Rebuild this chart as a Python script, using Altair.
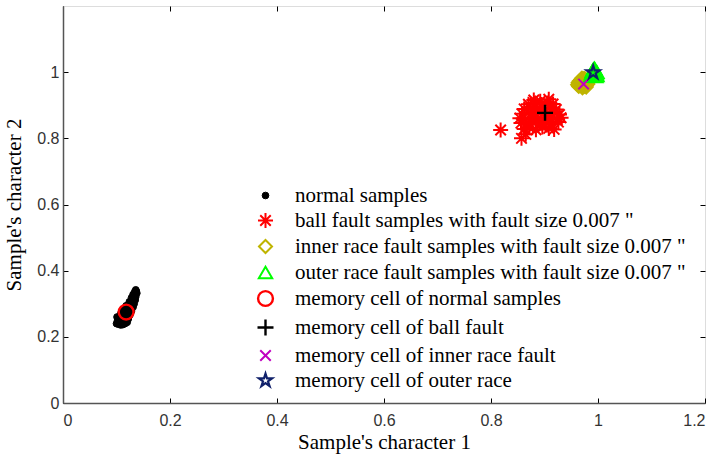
import altair as alt
import pandas as pd

series_names = [
    "normal samples",
    "ball fault samples with fault size 0.007 \"",
    "inner race fault samples with fault size 0.007 \"",
    "outer race fault samples with fault size 0.007 \"",
    "memory cell of normal samples",
    "memory cell of ball fault",
    "memory cell of inner race fault",
    "memory cell of outer race",
]

normal_x = [0.100,0.104,0.108,0.112,0.116,0.120,0.102,0.106,0.110,0.114,0.118,0.122,0.101,0.105,0.109,0.113,0.117,0.121,0.125,
            0.108,0.112,0.116,0.120,0.124,0.128,0.112,0.116,0.120,0.124,0.128,0.131,
            0.118,0.122,0.126,0.130,0.133,0.124,0.128,0.132,0.135,0.128,0.132,0.136,0.131,0.135,0.138,0.134,0.137,0.136]
normal_y = [0.240,0.238,0.236,0.237,0.240,0.244,0.250,0.249,0.247,0.248,0.251,0.254,0.260,0.259,0.258,0.260,0.262,0.264,0.266,
            0.270,0.272,0.271,0.273,0.276,0.278,0.282,0.284,0.283,0.286,0.288,0.290,
            0.294,0.296,0.297,0.299,0.300,0.306,0.308,0.309,0.311,0.318,0.320,0.321,0.328,0.330,0.332,0.336,0.338,0.342]

ball_x = [0.818,0.857,0.865,
          0.862,0.872,0.884,0.896,0.908,0.918,
          0.856,0.866,0.878,0.890,0.902,0.914,0.926,
          0.854,0.864,0.876,0.888,0.900,0.912,0.924,0.931,
          0.858,0.870,0.882,0.894,0.906,0.918,0.928,
          0.862,0.874,0.886,0.898,0.910,0.922,
          0.870,0.882,0.894,0.906,0.916,
          0.880,0.892,0.908]
ball_y = [0.825,0.800,0.812,
          0.828,0.832,0.826,0.834,0.830,0.827,
          0.846,0.842,0.848,0.844,0.847,0.843,0.849,
          0.861,0.858,0.862,0.859,0.864,0.860,0.857,0.862,
          0.874,0.877,0.873,0.878,0.875,0.879,0.872,
          0.889,0.892,0.888,0.891,0.893,0.887,
          0.903,0.906,0.902,0.907,0.904,
          0.916,0.912,0.918]

inner_x = [0.962,0.966,0.970,0.974,0.978,0.981,0.963,0.967,0.971,0.975,0.979,0.965,0.969,0.973,0.977,0.980,
           0.968,0.972,0.976,0.970,0.974,0.964,0.978,0.971]
inner_y = [0.962,0.960,0.958,0.957,0.960,0.964,0.968,0.967,0.965,0.966,0.969,0.973,0.972,0.971,0.974,0.976,
           0.978,0.977,0.979,0.982,0.981,0.957,0.955,0.953]

outer_x = [0.987,0.990,0.993,0.996,0.998,0.988,0.991,0.994,0.997,0.989,0.992,0.995,0.998,0.991,0.994,0.993]
outer_y = [0.990,0.988,0.989,0.987,0.990,0.996,0.995,0.997,0.996,1.002,1.003,1.001,1.000,1.008,1.010,1.012]

memory_x = [0.118, 0.901, 0.973, 0.991]
memory_y = [0.275, 0.877, 0.964, 0.999]

series_colors = ["#000000", "#ff0000", "#bfb400", "#00ff00", "#ff0000", "#000000", "#c000c0", "#10206a"]
series_fills = ["#000000", "transparent", "transparent", "transparent", "transparent", "transparent", "transparent", "transparent"]

ASTERISK = "M-1,0L1,0M0,-1L0,1M-0.7,-0.7L0.7,0.7M-0.7,0.7L0.7,-0.7"
PLUS = "M-1,0L1,0M0,-1L0,1"
XMARK = "M-1,-1L1,1M-1,1L1,-1"
STAR = "M0,-1L0.22,-0.31L0.95,-0.31L0.36,0.12L0.59,0.81L0,0.38L-0.59,0.81L-0.36,0.12L-0.95,-0.31L-0.22,-0.31Z"
series_shapes = ["circle", ASTERISK, "diamond", "triangle-up", "circle", PLUS, XMARK, STAR]
series_sizes = [45, 225, 170, 180, 220, 256, 110, 190]
series_strokes = [1, 2.0, 2.0, 2.0, 2.4, 2.4, 2.0, 2.2]

rows = []
for xs, ys, name in [(normal_x, normal_y, series_names[0]),
                     (ball_x, ball_y, series_names[1]),
                     (inner_x, inner_y, series_names[2]),
                     (outer_x, outer_y, series_names[3])]:
    for a, b in zip(xs, ys):
        rows.append({"x": a, "y": b, "series": name})
for i in range(4):
    rows.append({"x": memory_x[i], "y": memory_y[i], "series": series_names[4 + i]})
df = pd.DataFrame(rows)
df["order"] = range(len(df))

W, H = 642, 397
serif = "Liberation Serif"
sans = "Liberation Sans"

chart = alt.Chart(df).mark_point(filled=False, opacity=1).encode(
    x=alt.X("x:Q", scale=alt.Scale(domain=[0, 1.2], nice=False, zero=False),
            axis=alt.Axis(title="Sample's character 1", values=[0, 0.2, 0.4, 0.6, 0.8, 1, 1.2],
                          format="~g", ticks=False, grid=True, gridDash=[5, H - 10],
                          gridColor="#000000", gridOpacity=1, gridWidth=1,
                          labelFont=sans, labelFontSize=16, labelColor="#333333", labelPadding=9,
                          titleFont=serif, titleFontSize=21, titleFontWeight="normal",
                          titleColor="#000000", titlePadding=3,
                          domainColor="#555555", domainWidth=1.5)),
    y=alt.Y("y:Q", scale=alt.Scale(domain=[0, 1.2], nice=False, zero=False),
            axis=alt.Axis(title="Sample's character 2", values=[0, 0.2, 0.4, 0.6, 0.8, 1],
                          format="~g", ticks=False, grid=True, gridDash=[5, W - 10],
                          gridColor="#000000", gridOpacity=1, gridWidth=1,
                          labelFont=sans, labelFontSize=16, labelColor="#333333", labelPadding=4,
                          titleFont=serif, titleFontSize=21, titleFontWeight="normal",
                          titleColor="#000000", titlePadding=12,
                          domainColor="#555555", domainWidth=1.5)),
    color=alt.Color("series:N", scale=alt.Scale(domain=series_names, range=series_colors),
                    legend=alt.Legend(title=None, orient="none", legendX=192, legendY=179,
                                      labelFont=serif, labelFontSize=21, labelColor="#000000",
                                      labelLimit=600, rowPadding=3, labelOffset=19,
                                      symbolStrokeWidth=2)),
    fill=alt.Fill("series:N", scale=alt.Scale(domain=series_names, range=series_fills)),
    shape=alt.Shape("series:N", scale=alt.Scale(domain=series_names, range=series_shapes)),
    size=alt.Size("series:N", scale=alt.Scale(type="ordinal", domain=series_names, range=series_sizes)),
    strokeWidth=alt.StrokeWidth("series:N", scale=alt.Scale(type="ordinal", domain=series_names, range=series_strokes)),
    order=alt.Order("order:Q"),
).properties(
    width=W, height=H,
    autosize=alt.AutoSizeParams(type="none"),
    padding={"left": 63, "top": 6, "right": 13, "bottom": 52},
).configure_view(
    stroke="#555555", strokeWidth=1.5
).configure(background="white")

chart.save("out.html", embed_options={"renderer": "svg", "actions": False})
